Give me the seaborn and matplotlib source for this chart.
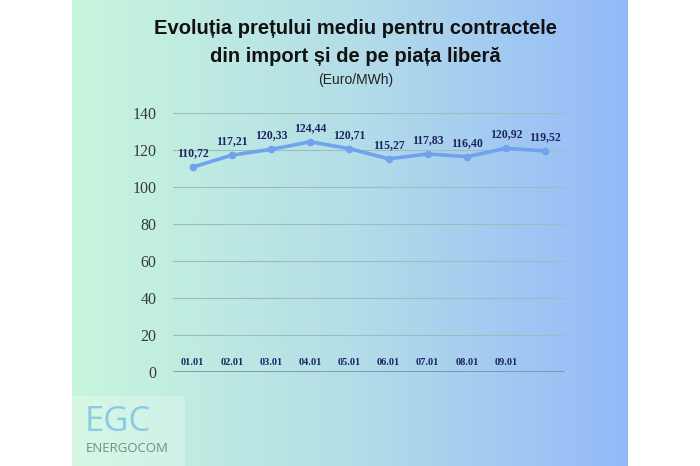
import matplotlib
matplotlib.use("Agg")
import matplotlib.pyplot as plt
import seaborn as sns
import numpy as np
import pandas as pd

# data
dates = ["01.01", "02.01", "03.01", "04.01", "05.01", "06.01", "07.01", "08.01", "09.01", ""]
prices = [110.72, 117.21, 120.33, 124.44, 120.71, 115.27, 117.83, 116.40, 120.92, 119.52]

df = pd.DataFrame({"idx": range(len(prices)), "price": prices})

sns.set_style("white")
plt.rcParams["font.family"] = ["Liberation Sans", "DejaVu Sans"]

fig = plt.figure(figsize=(7, 4.66), dpi=100)
fig.patch.set_facecolor("white")

# gradient background panel
bg = fig.add_axes([72 / 700, 0, 556 / 700, 1], zorder=0)
left = np.array([200, 246, 220]) / 255
mid = np.array([180, 222, 232]) / 255
right = np.array([148, 185, 249]) / 255
t = np.linspace(0, 1, 256)
grad = np.where(t[:, None] < 0.5,
                left + (mid - left) * (t[:, None] / 0.5),
                mid + (right - mid) * ((t[:, None] - 0.5) / 0.5))
bg.imshow(grad[None, :, :], aspect="auto", extent=[0, 1, 0, 1])
bg.set_axis_off()

# logo block
bg.add_patch(plt.Rectangle((0, 0), 113 / 556, 70 / 466, color="white", alpha=0.25, lw=0))
bg.text(13 / 556, 35 / 466, "EGC", fontsize=25, color="#8ccbe4", family="Open Sans")
bg.text(14 / 556, 14 / 466, "ENERGOCOM", fontsize=9.5, color="#6f8f86", family="Open Sans")

ax = fig.add_axes([173 / 700, 94 / 466, 392 / 700, 259 / 466], zorder=1)
ax.patch.set_alpha(0)

sns.lineplot(data=df, x="idx", y="price", ax=ax, color="#70a2f0", lw=2.6,
             marker="o", markersize=5.5, markeredgewidth=0)

ax.set_xlim(-0.5, len(prices) - 0.5)
ax.set_ylim(0, 140)
ax.set_yticks(range(0, 141, 20))
ax.yaxis.grid(True, color="#9dbcbf", lw=0.8)
ax.axhline(0, color="#7190a8", lw=1.2)
for s in ax.spines.values():
    s.set_visible(False)
ax.set_xticks([])
ax.set_xlabel("")
ax.set_ylabel("")
ax.tick_params(axis="y", length=0, pad=12, labelsize=11.5, labelcolor="#3a3a3a")
for lab in ax.get_yticklabels():
    lab.set_family("Liberation Serif")

for i, (d, p) in enumerate(zip(dates, prices)):
    ax.annotate(f"{p:.2f}".replace(".", ","), (i, p), xytext=(0, 10),
                textcoords="offset points", ha="center", va="center",
                fontsize=8.5, fontweight="heavy", family="Liberation Serif",
                color="#1b2463")
    if d:
        ax.annotate(d, (i, 0), xytext=(0, 7), textcoords="offset points",
                    ha="center", va="center", fontsize=7.5, fontweight="heavy",
                    family="Liberation Serif", color="#1b2463")

fig.text(0.508, 1 - 28 / 466, "Evoluția prețului mediu pentru contractele",
         ha="center", va="center", fontsize=14.5, fontweight="bold", color="#111111")
fig.text(0.508, 1 - 57 / 466, "din import și de pe piața liberă",
         ha="center", va="center", fontsize=14.5, fontweight="bold", color="#111111")
fig.text(0.508, 1 - 80 / 466, "(Euro/MWh)", ha="center", va="center",
         fontsize=10, color="#222222")

fig.savefig("out.png", dpi=100)
